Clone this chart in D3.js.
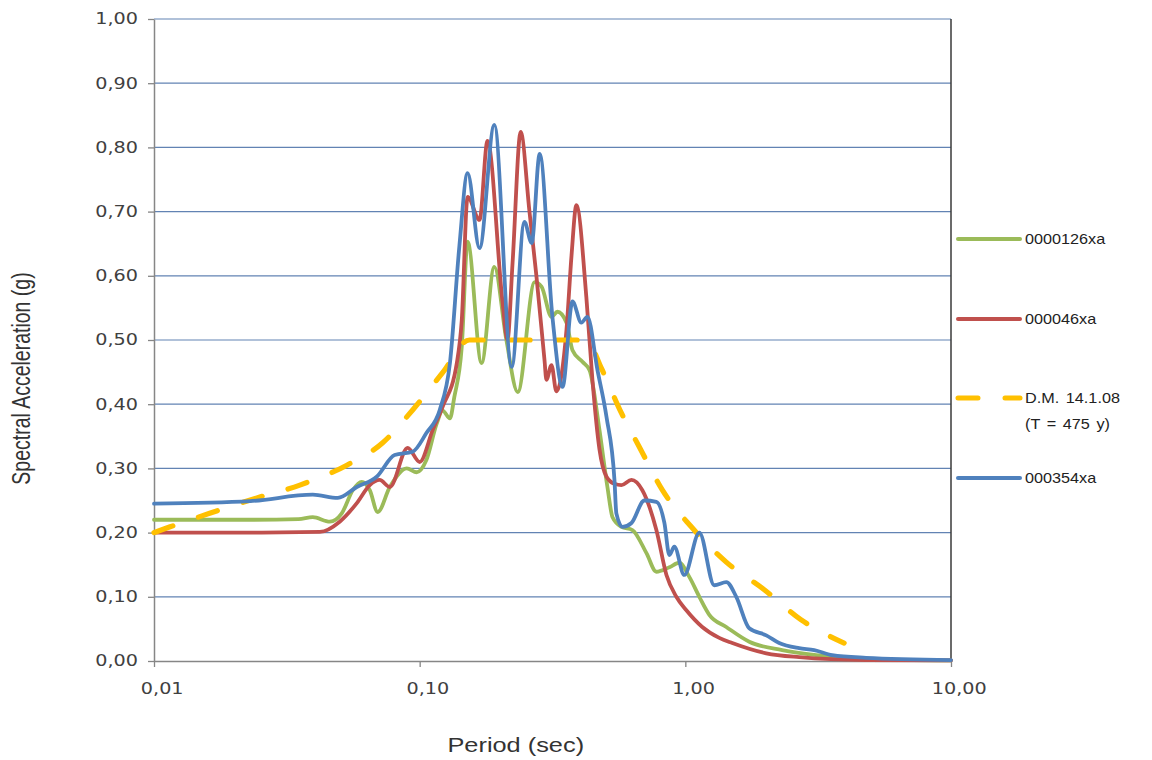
<!DOCTYPE html>
<html>
<head>
<meta charset="utf-8">
<title>Spectral Acceleration</title>
<script src="https://d3js.org/d3.v7.min.js"></script>
<style>
  body { margin: 0; background: #fff; }
  svg { display: block; background: #fff; }
</style>
</head>
<body>
<svg width="1152" height="760"></svg>
<script>
// period (sec) / spectral acceleration (g)
var t126 = [0.01, 0.023, 0.035, 0.0396, 0.0459, 0.0509, 0.056, 0.0605, 0.0649, 0.0695, 0.0772, 0.0894, 0.0974, 0.106, 0.116, 0.122, 0.13, 0.135, 0.144, 0.1515, 0.171, 0.191, 0.212, 0.234, 0.271, 0.2875, 0.3135, 0.33, 0.357, 0.376, 0.41, 0.436, 0.475, 0.509, 0.532, 0.575, 0.632, 0.714, 0.778, 0.871, 0.949, 1.035, 1.129, 1.231, 1.426, 1.74, 2.315, 3.108, 4.79, 10];
var sa126 = [0.22, 0.22, 0.221, 0.224, 0.217, 0.23, 0.266, 0.279, 0.266, 0.232, 0.271, 0.30, 0.294, 0.313, 0.37, 0.39, 0.378, 0.411, 0.489, 0.653, 0.464, 0.614, 0.50, 0.419, 0.59, 0.583, 0.536, 0.544, 0.527, 0.484, 0.466, 0.453, 0.36, 0.271, 0.224, 0.209, 0.204, 0.168, 0.139, 0.146, 0.153, 0.131, 0.10, 0.072, 0.053, 0.030, 0.017, 0.009, 0.003, 0.001];

var t046 = [0.01, 0.023, 0.0421, 0.05, 0.058, 0.0649, 0.0707, 0.0772, 0.0901, 0.1, 0.112, 0.122, 0.138, 0.144, 0.1515, 0.168, 0.18, 0.205, 0.214, 0.2237, 0.24, 0.259, 0.275, 0.295, 0.30, 0.3135, 0.327, 0.357, 0.373, 0.389, 0.424, 0.447, 0.475, 0.505, 0.541, 0.575, 0.627, 0.689, 0.778, 0.849, 0.925, 1.009, 1.158, 1.342, 1.502, 2.016, 2.683, 4.79, 10];
var sa046 = [0.20, 0.20, 0.201, 0.217, 0.246, 0.274, 0.282, 0.271, 0.332, 0.31, 0.36, 0.396, 0.464, 0.53, 0.723, 0.687, 0.81, 0.56, 0.50, 0.62, 0.824, 0.70, 0.60, 0.469, 0.438, 0.461, 0.42, 0.516, 0.632, 0.71, 0.567, 0.438, 0.33, 0.287, 0.276, 0.274, 0.282, 0.266, 0.204, 0.134, 0.10, 0.079, 0.053, 0.036, 0.028, 0.012, 0.006, 0.0015, 0.001];

var tDM = [0.01, 0.0115, 0.0162, 0.0244, 0.0354, 0.0532, 0.0726, 0.0941, 0.122, 0.154, 0.25, 0.424, 0.483, 0.575, 0.672, 0.82, 1.053, 1.426, 1.982, 2.73, 3.96];
var saDM = [0.20, 0.209, 0.23, 0.254, 0.274, 0.305, 0.34, 0.391, 0.449, 0.50, 0.50, 0.50, 0.456, 0.386, 0.333, 0.266, 0.209, 0.154, 0.111, 0.064, 0.028];

var t354 = [0.01, 0.023, 0.0396, 0.0492, 0.058, 0.0689, 0.0805, 0.0941, 0.106, 0.119, 0.13, 0.141, 0.1515, 0.168, 0.191, 0.222, 0.248, 0.264, 0.283, 0.316, 0.345, 0.376, 0.406, 0.428, 0.467, 0.505, 0.541, 0.55, 0.58, 0.627, 0.701, 0.778, 0.834, 0.871, 0.909, 0.991, 1.129, 1.285, 1.426, 1.555, 1.74, 2.016, 2.256, 2.683, 3.055, 3.57, 4.79, 10];
var sa354 = [0.245, 0.249, 0.259, 0.254, 0.271, 0.287, 0.321, 0.326, 0.355, 0.391, 0.464, 0.645, 0.76, 0.643, 0.835, 0.458, 0.684, 0.651, 0.79, 0.536, 0.427, 0.56, 0.527, 0.536, 0.453, 0.38, 0.282, 0.23, 0.209, 0.215, 0.25, 0.248, 0.215, 0.165, 0.178, 0.134, 0.20, 0.118, 0.123, 0.10, 0.051, 0.04, 0.028, 0.02, 0.017, 0.009, 0.005, 0.0015];

var xTicks = [0.01, 0.1, 1, 10];
var yTicks = [0, 0.1, 0.2, 0.3, 0.4, 0.5, 0.6, 0.7, 0.8, 0.9, 1.0];
var legendNames = ["0000126xa", "000046xa", "D.M. 14.1.08", "000354xa"];
var legendSub = "(T = 475 y)";

var svg = d3.select("svg"),
    margin = { top: 19, right: 201, bottom: 99, left: 154 },
    width = +svg.attr("width") - margin.left - margin.right,
    height = +svg.attr("height") - margin.top - margin.bottom,
    g = svg.append("g").attr("transform", "translate(" + margin.left + "," + margin.top + ")");

var x = d3.scaleLog().domain([0.01, 10]).range([0, width]);
var y = d3.scaleLinear().domain([0, 1]).range([height, 0]);

var comma = function (d) { return d3.format(".2f")(d).replace(".", ","); };

// gridlines
g.selectAll(".grid")
    .data(yTicks.slice(1))
    .enter().append("line")
    .attr("x1", 0).attr("x2", width)
    .attr("y1", function (d) { return y(d); })
    .attr("y2", function (d) { return y(d); })
    .attr("stroke", "#6283b3")
    .attr("stroke-width", 1.2);

// right border of plot area
g.append("line")
    .attr("x1", width).attr("x2", width)
    .attr("y1", 0).attr("y2", height)
    .attr("stroke", "#3a3a3a")
    .attr("stroke-width", 1.5);

// axes
var xAxis = g.append("g")
    .attr("transform", "translate(0," + height + ")")
    .call(d3.axisBottom(x).tickValues(xTicks).tickFormat(comma).tickSize(6).tickSizeOuter(0).tickPadding(16));

var yAxis = g.append("g")
    .call(d3.axisLeft(y).tickValues(yTicks).tickFormat(comma).tickSize(6).tickSizeOuter(0).tickPadding(6.5));

[xAxis, yAxis].forEach(function (a) {
    a.select(".domain").attr("stroke", "#868686").attr("stroke-width", 1.5);
    a.selectAll(".tick line").attr("stroke", "#868686").attr("stroke-width", 1.3);
    a.selectAll("text")
        .attr("fill", "#404040")
        .style("font-family", "'DejaVu Sans', Verdana, sans-serif")
        .style("font-size", "15px")
        .attr("transform", "scale(1.28,1)");
});
xAxis.selectAll("text").attr("dx", 6);

// series
var line = d3.line()
    .x(function (d) { return x(d[0]); })
    .y(function (d) { return y(d[1]); })
    .curve(d3.curveMonotoneX);

var series = [
    { name: legendNames[0], color: "#9bbb59", dash: null, width: 3.8, data: d3.zip(t126, sa126) },
    { name: legendNames[1], color: "#c0504d", dash: null, width: 3.8, data: d3.zip(t046, sa046) },
    { name: legendNames[2], color: "#ffc000", dash: "20,27", width: 5.2, data: d3.zip(tDM, saDM) },
    { name: legendNames[3], color: "#4f81bd", dash: null, width: 3.8, data: d3.zip(t354, sa354) }
];

series.forEach(function (s) {
    g.append("path")
        .datum(s.data)
        .attr("fill", "none")
        .attr("stroke", s.color)
        .attr("stroke-width", s.width)
        .attr("stroke-linecap", "round")
        .attr("stroke-linejoin", "round")
        .attr("stroke-dasharray", s.dash)
        .attr("d", line);
});

// legend
var legendY = [239, 319, 398, 478];
var legend = svg.append("g").attr("transform", "translate(958,0)");
series.forEach(function (s, i) {
    legend.append("line")
        .attr("x1", 0).attr("x2", 62)
        .attr("y1", legendY[i]).attr("y2", legendY[i])
        .attr("stroke", s.color)
        .attr("stroke-width", s.dash ? 5 : 4)
        .attr("stroke-linecap", "round")
        .attr("stroke-dasharray", s.dash);
    legend.append("text")
        .attr("transform", "translate(67," + legendY[i] + ") scale(1.08,1)")
        .attr("dy", "0.36em")
        .style("font-family", "'Liberation Sans', Arial, sans-serif")
        .style("font-size", "15px")
        .style("word-spacing", "2px")
        .attr("fill", "#222")
        .text(s.name);
});
legend.append("text")
    .attr("transform", "translate(67," + (legendY[2] + 26) + ") scale(1.08,1)")
    .attr("dy", "0.36em")
    .style("font-family", "'Liberation Sans', Arial, sans-serif")
    .style("font-size", "15px")
    .style("word-spacing", "2px")
    .attr("fill", "#222")
    .text(legendSub);

// axis titles
svg.append("text")
    .attr("transform", "translate(" + (margin.left + x(0.23)) + ",752) scale(1.3,1)")
    .attr("text-anchor", "middle")
    .style("font-family", "'Liberation Sans', Arial, sans-serif")
    .style("font-size", "19.5px")
    .attr("fill", "#333")
    .text("Period (sec)");

svg.append("text")
    .attr("transform", "translate(21," + (margin.top + y(0.44)) + ") rotate(-90) scale(1,1.3)")
    .attr("text-anchor", "middle")
    .attr("dy", "0.35em")
    .style("font-family", "'Liberation Sans', Arial, sans-serif")
    .style("font-size", "19.5px")
    .attr("fill", "#333")
    .text("Spectral Acceleration (g)");
</script>
</body>
</html>
